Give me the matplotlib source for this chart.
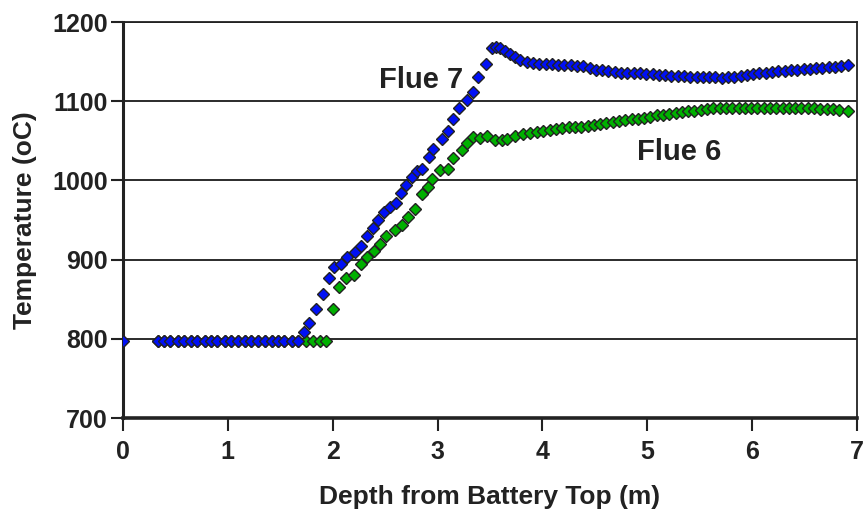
import matplotlib
matplotlib.use('Agg')
import matplotlib.pyplot as plt

plt.rcParams['font.family'] = ['Liberation Sans', 'DejaVu Sans']
plt.rcParams['font.weight'] = 'bold'

# Flue 7 (blue)
depth_flue7 = [0.0, 0.33, 0.39, 0.45, 0.52, 0.58, 0.65, 0.71, 0.78, 0.84, 0.90, 0.97,
               1.03, 1.10, 1.16, 1.22, 1.29, 1.35, 1.42, 1.48, 1.54, 1.61, 1.67,
               1.73, 1.77, 1.84, 1.91, 1.96, 2.01, 2.08, 2.14, 2.21, 2.27,
               2.33, 2.38, 2.43, 2.49, 2.55, 2.60, 2.65, 2.70, 2.76, 2.80,
               2.85, 2.92, 2.96, 3.04, 3.10, 3.15, 3.20, 3.28, 3.34, 3.39,
               3.46, 3.52, 3.56,
               3.60, 3.64, 3.69, 3.74, 3.79, 3.85,
               3.91, 3.97, 4.03, 4.09, 4.15, 4.21, 4.27, 4.33, 4.39, 4.45,
               4.51, 4.57, 4.63, 4.69, 4.75, 4.81, 4.87, 4.93, 4.99, 5.05,
               5.11, 5.17, 5.23, 5.29, 5.35, 5.41, 5.47, 5.53, 5.59, 5.65,
               5.71, 5.77, 5.83, 5.89, 5.95, 6.01, 6.07, 6.13, 6.19, 6.25,
               6.31, 6.37, 6.43, 6.49, 6.55, 6.61, 6.67, 6.73, 6.79, 6.85, 6.91]
temp_flue7 = [797, 797, 797, 797, 797, 797, 797, 797, 797, 797, 797, 797,
              797, 797, 797, 797, 797, 797, 797, 797, 797, 797, 797,
              808, 820, 838, 857, 877, 891, 894, 903, 910, 917,
              930, 940, 950, 960, 966, 972, 984, 994, 1004, 1012,
              1015, 1029, 1040, 1052, 1063, 1078, 1091, 1101, 1112, 1130,
              1147, 1167, 1168,
              1167, 1163, 1160, 1156, 1152, 1150,
              1148, 1147, 1147, 1147, 1146, 1146, 1146, 1145, 1144, 1142,
              1140, 1139, 1138, 1137, 1136, 1136, 1135, 1135, 1134, 1134,
              1133, 1133, 1132, 1132, 1132, 1131, 1131, 1131, 1130, 1130,
              1129, 1131, 1131, 1132, 1133, 1134, 1135, 1136, 1137, 1138,
              1138, 1139, 1140, 1141, 1141, 1142, 1142, 1143, 1143, 1144, 1146]

# Flue 6 (green)
depth_flue6 = [0.33, 0.39, 0.45, 0.52, 0.58, 0.65, 0.71, 0.78, 0.84, 0.90, 0.97,
               1.03, 1.10, 1.16, 1.22, 1.29, 1.35, 1.42, 1.48, 1.54, 1.61, 1.67,
               1.75, 1.81, 1.88, 1.94,
               2.00, 2.06, 2.13, 2.20, 2.27, 2.33, 2.39, 2.45, 2.51, 2.59,
               2.66, 2.72, 2.78, 2.85, 2.91, 2.95, 3.02, 3.10, 3.15, 3.23,
               3.28, 3.34, 3.40, 3.47, 3.55, 3.61, 3.66, 3.74, 3.81, 3.88, 3.95,
               4.01, 4.07, 4.13, 4.19, 4.25, 4.31, 4.37, 4.43, 4.49, 4.55,
               4.61, 4.67, 4.73, 4.79, 4.85, 4.91, 4.97, 5.03, 5.09, 5.15,
               5.21, 5.27, 5.33, 5.39, 5.45, 5.51, 5.57, 5.63, 5.69, 5.75,
               5.81, 5.87, 5.93, 5.99, 6.05, 6.11, 6.17, 6.23, 6.29, 6.35,
               6.41, 6.47, 6.53, 6.59, 6.65, 6.71, 6.77, 6.83, 6.91]
temp_flue6 = [797, 797, 797, 797, 797, 797, 797, 797, 797, 797, 797,
              797, 797, 797, 797, 797, 797, 797, 797, 797, 797, 797,
              797, 797, 797, 797,
              838, 865, 877, 880, 894, 903, 911, 920, 930, 937,
              944, 954, 964, 983, 992, 1002, 1013, 1014, 1028, 1038,
              1047, 1055, 1053, 1056, 1051, 1051, 1052, 1056, 1058, 1060, 1061,
              1063, 1064, 1065, 1066, 1067, 1067, 1068, 1069, 1070, 1071,
              1072, 1074, 1075, 1076, 1077, 1078, 1079, 1080, 1082, 1083,
              1084, 1085, 1086, 1087, 1088, 1089, 1090, 1091, 1091, 1091,
              1092, 1092, 1092, 1092, 1092, 1092, 1092, 1092, 1092, 1091,
              1091, 1091, 1091, 1091, 1090, 1090, 1090, 1089, 1087]

x_ticks = [0, 1, 2, 3, 4, 5, 6, 7]
y_ticks = [700, 800, 900, 1000, 1100, 1200]

fig = plt.figure(figsize=(8.68, 5.13), dpi=100)
ax = fig.add_axes([123 / 868, 1 - 418 / 513, (857 - 123) / 868, (418 - 22) / 513])

# horizontal gridlines
for yv in y_ticks[1:]:
    ax.axhline(yv, color='#1a1a1a', lw=1.3, zorder=1)

ax.plot(depth_flue6, temp_flue6, linestyle='none', marker='D', ms=6.4,
        mfc='#00b000', mec='#222222', mew=1.0, zorder=3)
ax.plot(depth_flue7, temp_flue7, linestyle='none', marker='D', ms=6.4,
        mfc='#0010f5', mec='#222222', mew=1.0, zorder=4)

ax.text(2.84, 1127, 'Flue 7', fontsize=21, fontweight='bold', color='#222222',
        ha='center', va='center', zorder=5)
ax.text(5.30, 1036, 'Flue 6', fontsize=21, fontweight='bold', color='#222222',
        ha='center', va='center', zorder=5)

ax.set_xlim(0, 7)
ax.set_ylim(700, 1200)
ax.set_xticks(x_ticks)
ax.set_yticks(y_ticks)
ax.tick_params(axis='both', labelsize=18, colors='#222222', width=1.5,
               length=9, direction='out')
ax.tick_params(axis='y', pad=2)
ax.tick_params(axis='x', pad=7)

ax.spines['left'].set_linewidth(2.2)
ax.spines['bottom'].set_linewidth(2.6)
ax.spines['top'].set_linewidth(1.3)
ax.spines['right'].set_linewidth(1.3)
for s in ax.spines.values():
    s.set_color('#222222')

ax.set_xlabel('Depth from Battery Top (m)', fontsize=19, fontweight='bold',
              color='#222222', labelpad=15)
ax.set_ylabel('Temperature (oC)', fontsize=19, fontweight='bold',
              color='#222222', labelpad=11)

fig.savefig('out.png', dpi=100)
